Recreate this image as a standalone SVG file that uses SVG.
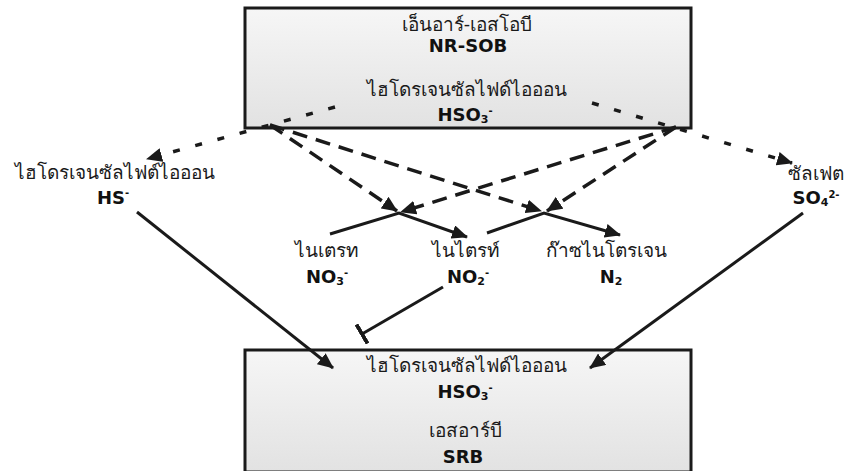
<svg xmlns="http://www.w3.org/2000/svg" width="847" height="471" viewBox="0 0 847 471">
<defs>
<linearGradient id="boxfill" x1="0" y1="0" x2="0" y2="1">
<stop offset="0" stop-color="#f6f6f6"/>
<stop offset="1" stop-color="#e2e2e2"/>
</linearGradient>
<marker id="arr" viewBox="0 0 16 14" refX="15" refY="7" markerWidth="16" markerHeight="14" markerUnits="userSpaceOnUse" orient="auto">
<path d="M0,0 L16,7 L0,14 Z" fill="#1a1a1a"/>
</marker>
<marker id="tee" viewBox="0 0 4 22" refX="2" refY="11" markerWidth="4" markerHeight="22" markerUnits="userSpaceOnUse" orient="auto">
<rect x="0" y="0" width="4" height="22" fill="#1a1a1a"/>
</marker>
</defs>
<style>
.box{fill:url(#boxfill);stroke:#1a1a1a;stroke-width:3}
.th{font-family:"Liberation Sans","Noto Sans",sans-serif;font-size:19px;fill:#1a1a1a;text-anchor:middle}
.f{font-family:"DejaVu Sans","Liberation Sans",sans-serif;font-weight:bold;font-size:18px;fill:#111;text-anchor:middle}
.sub{font-size:11px}
.sup{font-size:10px}
.solid{fill:none;stroke:#1a1a1a;stroke-width:3}
.dash{fill:none;stroke:#1a1a1a;stroke-width:3.5;stroke-dasharray:15 9}
.dot{fill:none;stroke:#1a1a1a;stroke-width:3.5;stroke-dasharray:7 16}
</style>

<g id="nrsob">
<rect class="box" x="245" y="8" width="446" height="120"/>
<text class="th" x="467" y="31">เอ็นอาร์-เอสโอบี</text>
<text class="f" x="468" y="52">NR-SOB</text>
<text class="th" x="467" y="96">ไฮโดรเจนซัลไฟด์ไอออน</text>
<text class="f" x="465" y="121">HSO<tspan class="sub" dy="2">3</tspan><tspan class="sup" dy="-9">-</tspan></text>
</g>

<g id="srb">
<rect class="box" x="245" y="350" width="446" height="122"/>
<text class="th" x="467" y="372">ไฮโดรเจนซัลไฟด์ไอออน</text>
<text class="f" x="465" y="398">HSO<tspan class="sub" dy="2">3</tspan><tspan class="sup" dy="-9">-</tspan></text>
<text class="th" x="465" y="437">เอสอาร์บี</text>
<text class="f" x="463" y="463">SRB</text>
</g>

<g id="hs">
<text class="th" x="115" y="179">ไฮโดรเจนซัลไฟต์ไอออน</text>
<text class="f" x="113" y="204">HS<tspan class="sup" dy="-8">-</tspan></text>
</g>

<g id="so4">
<text class="th" x="816" y="180">ซัลเฟต</text>
<text class="f" x="816" y="204">SO<tspan class="sub" dy="2">4</tspan><tspan class="sup" dy="-8">2-</tspan></text>
</g>

<g id="no3">
<text class="th" x="327" y="257">ไนเตรท</text>
<text class="f" x="327" y="283">NO<tspan class="sub" dy="2">3</tspan><tspan class="sup" dy="-9">-</tspan></text>
</g>

<g id="no2">
<text class="th" x="466" y="257">ไนไตรท์</text>
<text class="f" x="468" y="283">NO<tspan class="sub" dy="2">2</tspan><tspan class="sup" dy="-9">-</tspan></text>
</g>

<g id="n2">
<text class="th" x="606" y="257">ก๊าซไนโตรเจน</text>
<text class="f" x="611" y="283">N<tspan class="sub" dy="2">2</tspan></text>
</g>

<g id="connectors">
<path class="dot" d="M335,107 L147,159" marker-end="url(#arr)"/>
<path class="dot" d="M592,103 L792,163" marker-end="url(#arr)"/>

<path class="dash" d="M270,125 L397,211" marker-end="url(#arr)"/>
<path class="dash" d="M270,125 L541,211" marker-end="url(#arr)"/>
<path class="dash" d="M676,127 L401,212" marker-end="url(#arr)"/>
<path class="dash" d="M676,127 L547,211" marker-end="url(#arr)"/>

<path class="solid" d="M330,234 L399,213 L467,237" marker-end="url(#arr)"/>
<path class="solid" d="M487,233 L544,213 L620,235" marker-end="url(#arr)"/>

<path class="solid" d="M137,212 L333,368" marker-end="url(#arr)"/>
<path class="solid" d="M803,213 L590,368" marker-end="url(#arr)"/>

<path class="solid" d="M443,287 L362,334" marker-end="url(#tee)"/>
</g>
</svg>
